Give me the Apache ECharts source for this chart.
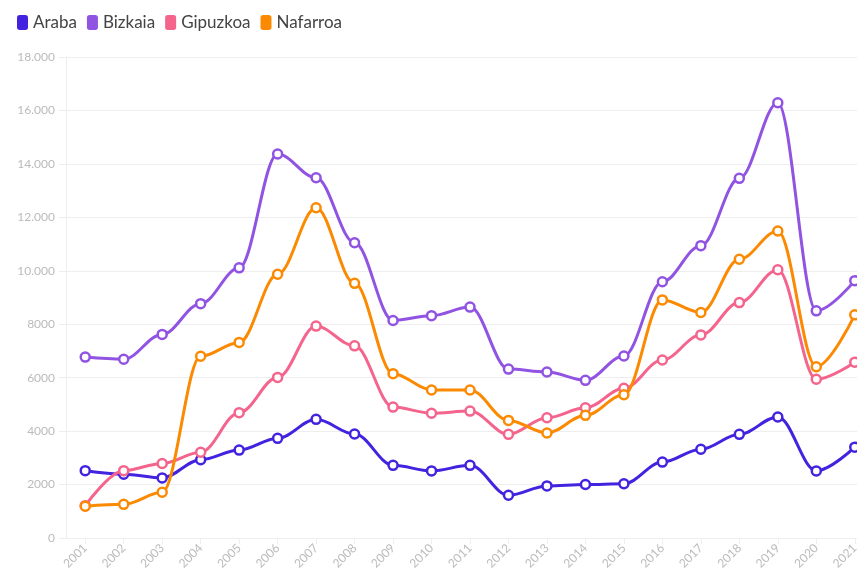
<!DOCTYPE html>
<html>
<head>
<meta charset="utf-8">
<style>
  html, body { margin: 0; padding: 0; background: #ffffff; }
  #chart { width: 857px; height: 577px; }
</style>
<script src="https://cdn.jsdelivr.net/npm/echarts@6/dist/echarts.min.js"></script>
</head>
<body>
<div id="chart"></div>
<script>
// Years on the category axis
const years = ['2001','2002','2003','2004','2005','2006','2007','2008','2009','2010','2011',
               '2012','2013','2014','2015','2016','2017','2018','2019','2020','2021'];

// Yearly values per territory
const araba    = [2520, 2390, 2250, 2930, 3290, 3730, 4440, 3890, 2720, 2510, 2720,
                  1600, 1950, 2000, 2030, 2840, 3320, 3880, 4530, 2510, 3400];
const bizkaia  = [6770, 6690, 7620, 8770, 10110, 14370, 13480, 11050, 8140, 8320, 8640,
                  6320, 6210, 5900, 6810, 9590, 10940, 13460, 16290, 8500, 9630];
const gipuzkoa = [1210, 2520, 2790, 3210, 4690, 6010, 7930, 7190, 4900, 4670, 4750,
                  3880, 4500, 4870, 5600, 6660, 7600, 8810, 10040, 5940, 6580];
const nafarroa = [1190, 1260, 1710, 6800, 7320, 9870, 12360, 9530, 6150, 5540, 5540,
                  4400, 3930, 4590, 5360, 8910, 8440, 10430, 11490, 6410, 8350];

// Value-axis tick labels
const yTickLabels = ['0', '2000', '4000', '6000', '8000', '10.000', '12.000', '14.000', '16.000', '18.000'];

const seriesNames  = ['Araba', 'Bizkaia', 'Gipuzkoa', 'Nafarroa'];
const seriesValues = [araba, bizkaia, gipuzkoa, nafarroa];
const colors = ['#4323df', '#9153e2', '#f4648c', '#fb8a02'];

const chart = echarts.init(document.getElementById('chart'), null, { renderer: 'canvas' });

chart.setOption({
  animation: false,
  color: colors,
  textStyle: { fontFamily: 'Lato' },
  legend: {
    left: 12,
    top: 9,
    icon: 'roundRect',
    itemWidth: 11,
    itemHeight: 15,
    itemGap: 10,
    textStyle: { fontSize: 17, color: '#444444', fontFamily: 'Lato' },
    data: seriesNames.map(function (name, i) {
      return { name: name, itemStyle: { color: colors[i], borderWidth: 0 } };
    })
  },
  // The plot area runs past the right edge of the canvas, so the last year is cut off
  grid: {
    left: 66,
    top: 57,
    right: -17,
    bottom: 39,
    containLabel: false,
    outerBoundsMode: 'none'
  },
  xAxis: {
    type: 'category',
    data: years,
    boundaryGap: true,
    axisLine: { show: true, lineStyle: { color: '#eeeeee' } },
    axisTick: { show: true, alignWithLabel: true, length: 6, lineStyle: { color: '#eeeeee' } },
    axisLabel: { rotate: 45, color: '#bbbbbb', fontSize: 12, margin: 8 },
    splitLine: { show: false }
  },
  yAxis: {
    type: 'value',
    min: 0,
    max: 18000,
    interval: 2000,
    axisLine: { show: true, lineStyle: { color: '#eeeeee' } },
    axisTick: { show: true, length: 7, lineStyle: { color: '#eeeeee' } },
    axisLabel: {
      color: '#bbbbbb',
      fontSize: 12,
      margin: 11,
      formatter: function (v) { return yTickLabels[Math.round(v / 2000)]; }
    },
    splitLine: { show: true, lineStyle: { color: '#eeeeee' } }
  },
  series: seriesNames.map(function (name, i) {
    return {
      name: name,
      type: 'line',
      data: seriesValues[i],
      smooth: 0.35,
      smoothMonotone: 'x',
      symbol: 'circle',
      symbolSize: 9,
      lineStyle: { width: 3, color: colors[i] },
      itemStyle: { color: '#ffffff', borderColor: colors[i], borderWidth: 2.5 },
      z: 2 + i
    };
  })
});
</script>
</body>
</html>
